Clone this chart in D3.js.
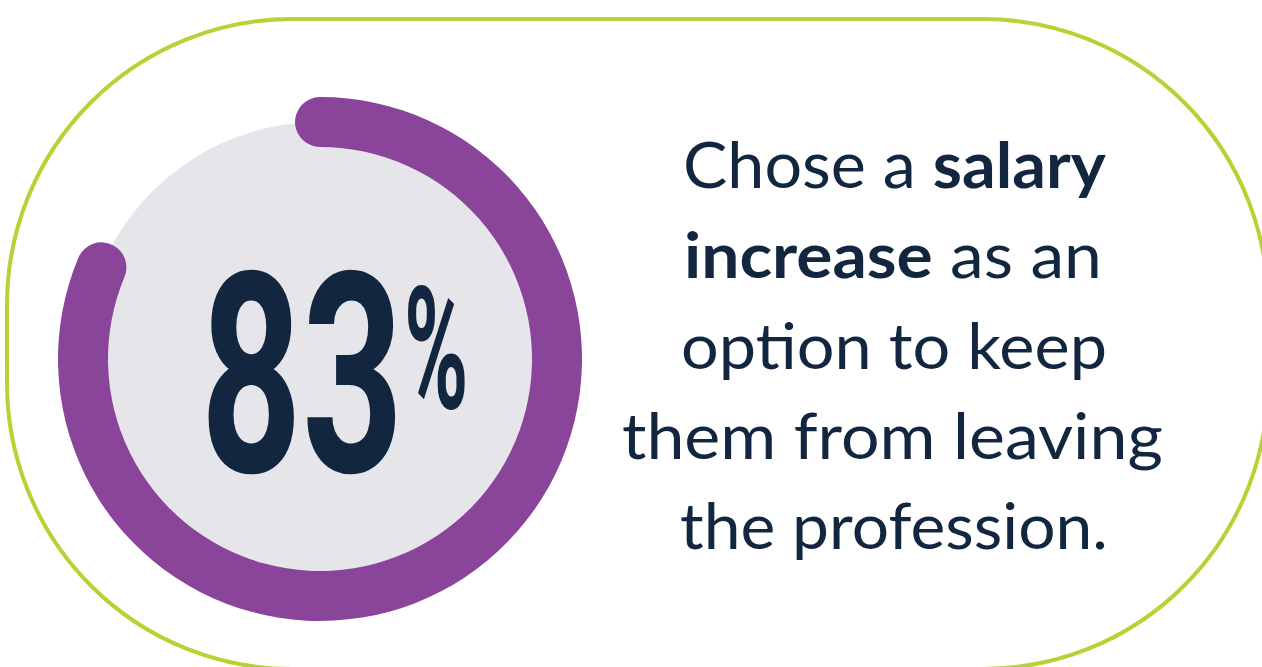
<!DOCTYPE html>
<html>
<head>
<meta charset="utf-8">
<script src="https://cdn.jsdelivr.net/npm/d3@7"></script>
<style>
  html, body { margin: 0; padding: 0; background: #fff; }
  svg { display: block; }
</style>
</head>
<body>
<div id="chart"></div>
<script>
// ---- data ----
const shareValue = [83];            // percent who chose a salary increase
const valueLabels = ["83", "%"];
// caption, one entry per line: [text, isBold]
const captionLines = [
  [["Chose a ", false], ["salary", true]],
  [["increase", true], [" as an", false]],
  [["option to keep", false]],
  [["them from leaving", false]],
  [["the profession.", false]]
];

const W = 1262, H = 667;
const navy = "#12263f", purple = "#8a4499", track = "#e6e5ea", lime = "#b5d334";

const svg = d3.select("#chart").append("svg")
  .attr("width", W).attr("height", H);

// outer pill outline
svg.append("rect")
  .attr("x", 7).attr("y", 19)
  .attr("width", 1261).attr("height", 650)
  .attr("rx", 285).attr("ry", 286)
  .attr("fill", "none")
  .attr("stroke", lime)
  .attr("stroke-width", 4);

// ---- ring gauge ----
const cx = 320, cy = 359;
const outerR = 262, innerR = 212;
const midR = (outerR + innerR) / 2;
const capAngle = ((outerR - innerR) / 2) / midR;   // start cap is centred on 12 o'clock

const angle = d3.scaleLinear().domain([0, 100]).range([0, 2 * Math.PI]);

const gauge = svg.append("g").attr("transform", `translate(${cx},${cy})`);

gauge.append("circle")
  .attr("r", midR)
  .attr("fill", track);

const arc = d3.arc()
  .innerRadius(innerR)
  .outerRadius(outerR)
  .cornerRadius((outerR - innerR) / 2);

gauge.selectAll("path.value")
  .data(shareValue)
  .join("path")
  .attr("class", "value")
  .attr("fill", purple)
  .attr("d", d => arc({ startAngle: -capAngle, endAngle: angle(d) }));

// ---- big number, fitted to its ink box with canvas metrics ----
const ctx = document.createElement("canvas").getContext("2d");
function inkBox(text, font) {
  ctx.font = font;
  const m = ctx.measureText(text);
  return { left: -m.actualBoundingBoxLeft, right: m.actualBoundingBoxRight,
           top: -m.actualBoundingBoxAscent, bottom: m.actualBoundingBoxDescent };
}
function fitText(text, weight, size, family, box) {
  const b = inkBox(text, `${weight} ${size}px ${family}`);
  const sx = (box[2] - box[0]) / (b.right - b.left);
  const sy = (box[3] - box[1]) / (b.bottom - b.top);
  svg.append("text")
    .attr("transform", `translate(${box[0] - b.left * sx},${box[1] - b.top * sy}) scale(${sx},${sy})`)
    .attr("font-family", family)
    .attr("font-weight", weight)
    .attr("font-size", size)
    .attr("fill", navy)
    .text(text);
}
fitText(valueLabels[0], 700, 300, "Roboto", [206, 266, 396, 476]);
fitText(valueLabels[1], 700, 200, "Roboto", [408, 285, 465, 410]);

// ---- caption ----
const lineX = [[683, 1106], [684, 1102], [681, 1107], [622, 1163], [680, 1108]];
const baseY = d3.scaleLinear().domain([0, 4]).range([188, 549]);

captionLines.forEach((parts, i) => {
  const t = svg.append("text")
    .attr("font-family", "Lato, 'Open Sans', sans-serif")
    .attr("font-size", 64)
    .attr("fill", navy)
    .attr("x", 0).attr("y", 0);
  parts.forEach(([s, bold]) => {
    t.append("tspan")
      .attr("font-weight", bold ? 700 : 400)
      .text(s);
  });
  const bb = t.node().getBBox();
  const sx = (lineX[i][1] - lineX[i][0]) / bb.width;
  t.attr("transform", `translate(${lineX[i][0] - bb.x * sx},${baseY(i)}) scale(${sx},1)`);
});
</script>
</body>
</html>
